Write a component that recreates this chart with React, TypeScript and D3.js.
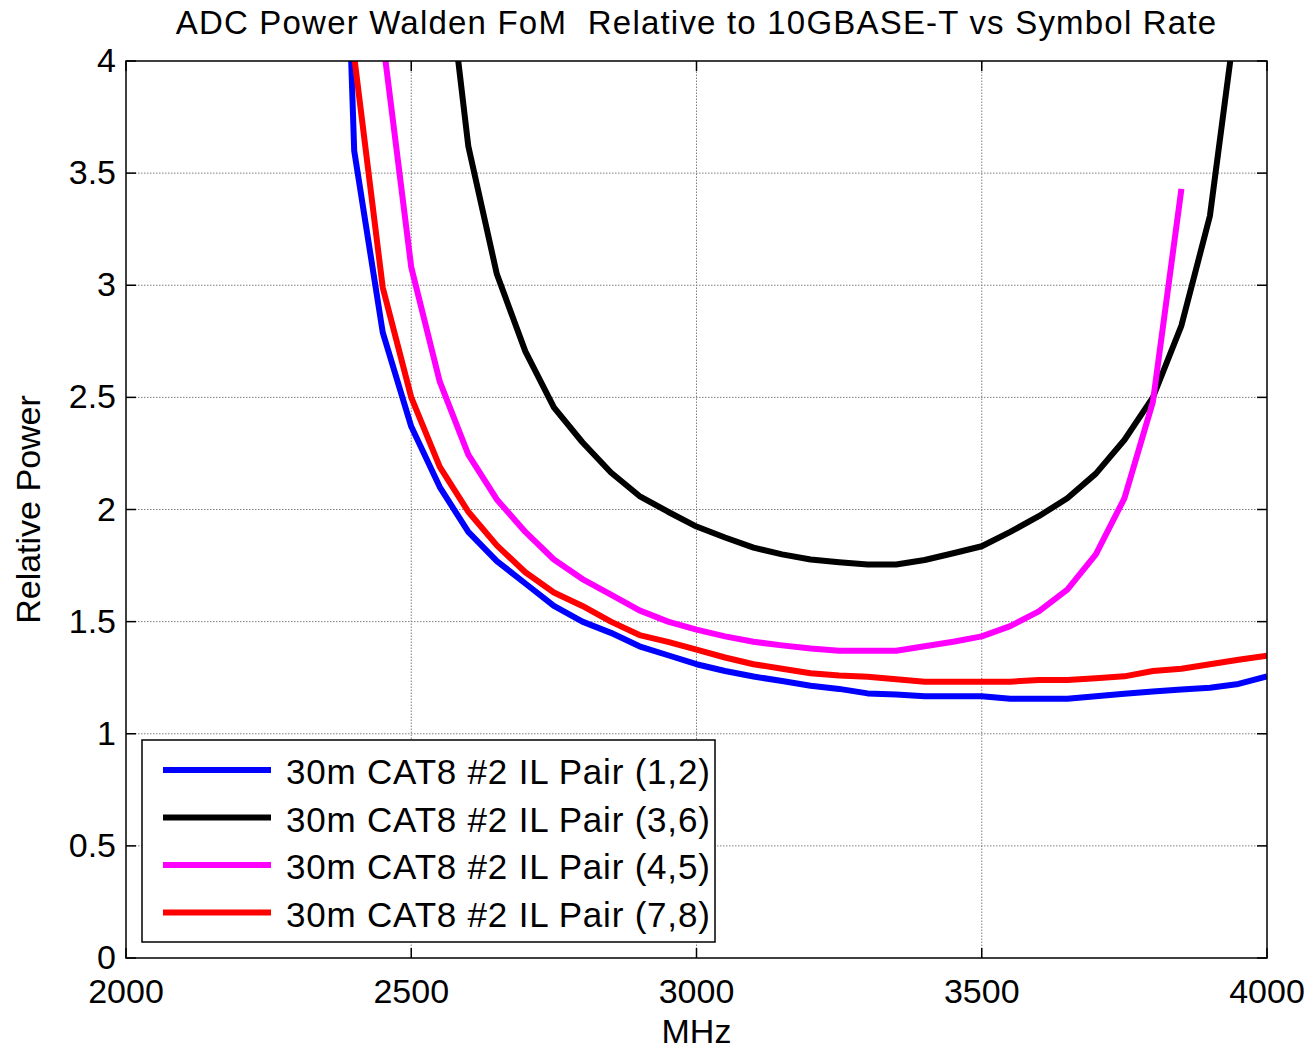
import React, { useEffect, useRef } from 'react';
import * as d3 from 'd3';

const width = 1307;
const height = 1051;
const margin = { top: 61, left: 126, right: 40, bottom: 93 };

const titleText = 'ADC Power Walden FoM  Relative to 10GBASE-T vs Symbol Rate';
const xLabel = 'MHz';
const yLabel = 'Relative Power';

const xTicks = [2000, 2500, 3000, 3500, 4000];
const yTicks = [0, 0.5, 1, 1.5, 2, 2.5, 3, 3.5, 4];

const mhz = [
  2350, 2400, 2450, 2500, 2550, 2600, 2650, 2700, 2750, 2800, 2850, 2900,
  2950, 3000, 3050, 3100, 3150, 3200, 3250, 3300, 3350, 3400, 3450, 3500,
  3550, 3600, 3650, 3700, 3750, 3800, 3850, 3900, 3950, 4000,
];

const pair12 = [
  7.4, 3.6, 2.79, 2.37, 2.1, 1.9, 1.77, 1.67, 1.57, 1.5, 1.45, 1.39,
  1.35, 1.31, 1.28, 1.255, 1.235, 1.214, 1.2, 1.18, 1.175, 1.167, 1.167, 1.167,
  1.156, 1.156, 1.156, 1.167, 1.178, 1.188, 1.197, 1.205, 1.222, 1.256,
];
const pair36 = [
  null, null, null, null, 4.7, 3.62, 3.05, 2.705, 2.455, 2.3, 2.165, 2.06,
  1.99, 1.924, 1.875, 1.83, 1.8, 1.777, 1.765, 1.755, 1.755, 1.775, 1.805, 1.836,
  1.9, 1.97, 2.05, 2.16, 2.31, 2.5, 2.82, 3.31, 4.28, null,
];
const pair45 = [
  null, 6.0, 4.1, 3.08, 2.57, 2.245, 2.045, 1.9, 1.777, 1.69, 1.62, 1.55,
  1.5, 1.464, 1.434, 1.41, 1.394, 1.38, 1.37, 1.37, 1.37, 1.39, 1.41, 1.434,
  1.48, 1.546, 1.643, 1.8, 2.05, 2.48, 3.43, null, null, null,
];
const pair78 = [
  8.0, 4.02, 2.99, 2.5, 2.19, 1.99, 1.84, 1.72, 1.63, 1.57, 1.5, 1.44,
  1.41, 1.375, 1.34, 1.31, 1.29, 1.27, 1.26, 1.254, 1.243, 1.232, 1.232, 1.232,
  1.232, 1.24, 1.24, 1.248, 1.256, 1.28, 1.29, 1.31, 1.33, 1.348,
];

const seriesNames = [
  '30m CAT8 #2 IL Pair (1,2)',
  '30m CAT8 #2 IL Pair (3,6)',
  '30m CAT8 #2 IL Pair (4,5)',
  '30m CAT8 #2 IL Pair (7,8)',
];
const seriesColors = ['#0000ff', '#000000', '#ff00ff', '#ff0000'];
const seriesValues = [pair12, pair36, pair45, pair78];

const font = 'Arial, "Liberation Sans", sans-serif';

export default function App() {
  const ref = useRef<SVGSVGElement>(null);

  useEffect(() => {
    const svg = d3.select(ref.current);
    svg.selectAll('*').remove();

    const x0 = margin.left;
    const x1 = width - margin.right;
    const y0 = height - margin.bottom;
    const y1 = margin.top;

    const x = d3.scaleLinear().domain([2000, 4000]).range([x0, x1]);
    const y = d3.scaleLinear().domain([0, 4]).range([y0, y1]);

    svg.append('rect').attr('width', width).attr('height', height).attr('fill', 'white');

    svg.append('defs').append('clipPath').attr('id', 'plot-clip')
      .append('rect')
      .attr('x', x0).attr('y', y1)
      .attr('width', x1 - x0).attr('height', y0 - y1);

    // grid (dotted)
    const grid = svg.append('g')
      .attr('stroke', '#7f7f7f')
      .attr('stroke-width', 1)
      .attr('stroke-dasharray', '1.5,1.5');
    grid.selectAll('.gx')
      .data(xTicks.slice(1, -1))
      .join('line')
      .attr('x1', d => x(d)).attr('x2', d => x(d))
      .attr('y1', y0).attr('y2', y1);
    grid.selectAll('.gy')
      .data(yTicks.slice(1, -1))
      .join('line')
      .attr('y1', d => y(d)).attr('y2', d => y(d))
      .attr('x1', x0).attr('x2', x1);

    // series
    const line = d3.line<number | null>()
      .defined(d => d !== null)
      .x((_, i) => x(mhz[i]))
      .y(d => y(d as number));

    svg.append('g')
      .attr('clip-path', 'url(#plot-clip)')
      .selectAll('path')
      .data(seriesValues)
      .join('path')
      .attr('d', d => line(d))
      .attr('fill', 'none')
      .attr('stroke', (_, i) => seriesColors[i])
      .attr('stroke-width', 6)
      .attr('stroke-linejoin', 'round');

    // box
    svg.append('rect')
      .attr('x', x0).attr('y', y1)
      .attr('width', x1 - x0).attr('height', y0 - y1)
      .attr('fill', 'none')
      .attr('stroke', 'black')
      .attr('stroke-width', 1.5);

    // inside ticks on all four sides
    const tickLen = 10;
    const ticks = svg.append('g').attr('stroke', 'black').attr('stroke-width', 1.5);
    xTicks.forEach(t => {
      ticks.append('line').attr('x1', x(t)).attr('x2', x(t)).attr('y1', y0).attr('y2', y0 - tickLen);
      ticks.append('line').attr('x1', x(t)).attr('x2', x(t)).attr('y1', y1).attr('y2', y1 + tickLen);
    });
    yTicks.forEach(t => {
      ticks.append('line').attr('x1', x0).attr('x2', x0 + tickLen).attr('y1', y(t)).attr('y2', y(t));
      ticks.append('line').attr('x1', x1).attr('x2', x1 - tickLen).attr('y1', y(t)).attr('y2', y(t));
    });

    // tick labels
    svg.append('g')
      .attr('font-family', font)
      .attr('font-size', 34)
      .attr('text-anchor', 'middle')
      .selectAll('text')
      .data(xTicks)
      .join('text')
      .attr('x', d => x(d))
      .attr('y', y0 + 45)
      .text(d => d);

    svg.append('g')
      .attr('font-family', font)
      .attr('font-size', 34)
      .attr('text-anchor', 'end')
      .selectAll('text')
      .data(yTicks)
      .join('text')
      .attr('x', x0 - 10)
      .attr('y', d => y(d) + 11)
      .text(d => d);

    // title and axis labels
    svg.append('text')
      .attr('x', (x0 + x1) / 2)
      .attr('y', 34)
      .attr('text-anchor', 'middle')
      .attr('font-family', font)
      .attr('font-size', 33)
      .attr('letter-spacing', 1.2)
      .style('white-space', 'pre')
      .text(titleText);

    svg.append('text')
      .attr('x', (x0 + x1) / 2)
      .attr('y', 1043)
      .attr('text-anchor', 'middle')
      .attr('font-family', font)
      .attr('font-size', 34)
      .text(xLabel);

    svg.append('text')
      .attr('transform', `translate(40,${(y0 + y1) / 2}) rotate(-90)`)
      .attr('text-anchor', 'middle')
      .attr('font-family', font)
      .attr('font-size', 34)
      .text(yLabel);

    // legend
    const lg = svg.append('g').attr('transform', 'translate(142,740)');
    lg.append('rect')
      .attr('width', 573).attr('height', 202)
      .attr('fill', 'white')
      .attr('stroke', 'black')
      .attr('stroke-width', 1.5);
    const rows = lg.selectAll('g.row')
      .data(seriesNames)
      .join('g')
      .attr('transform', (_, i) => `translate(0,${30 + i * 47.5})`);
    rows.append('line')
      .attr('x1', 21).attr('x2', 129)
      .attr('stroke', (_, i) => seriesColors[i])
      .attr('stroke-width', 6);
    rows.append('text')
      .attr('x', 144)
      .attr('y', 14)
      .attr('font-family', font)
      .attr('font-size', 35)
      .attr('letter-spacing', 0.8)
      .text(d => d);
  }, []);

  return (
    <svg
      ref={ref}
      width={width}
      height={height}
      style={{ position: 'absolute', left: 0, top: 0 }}
    />
  );
}
